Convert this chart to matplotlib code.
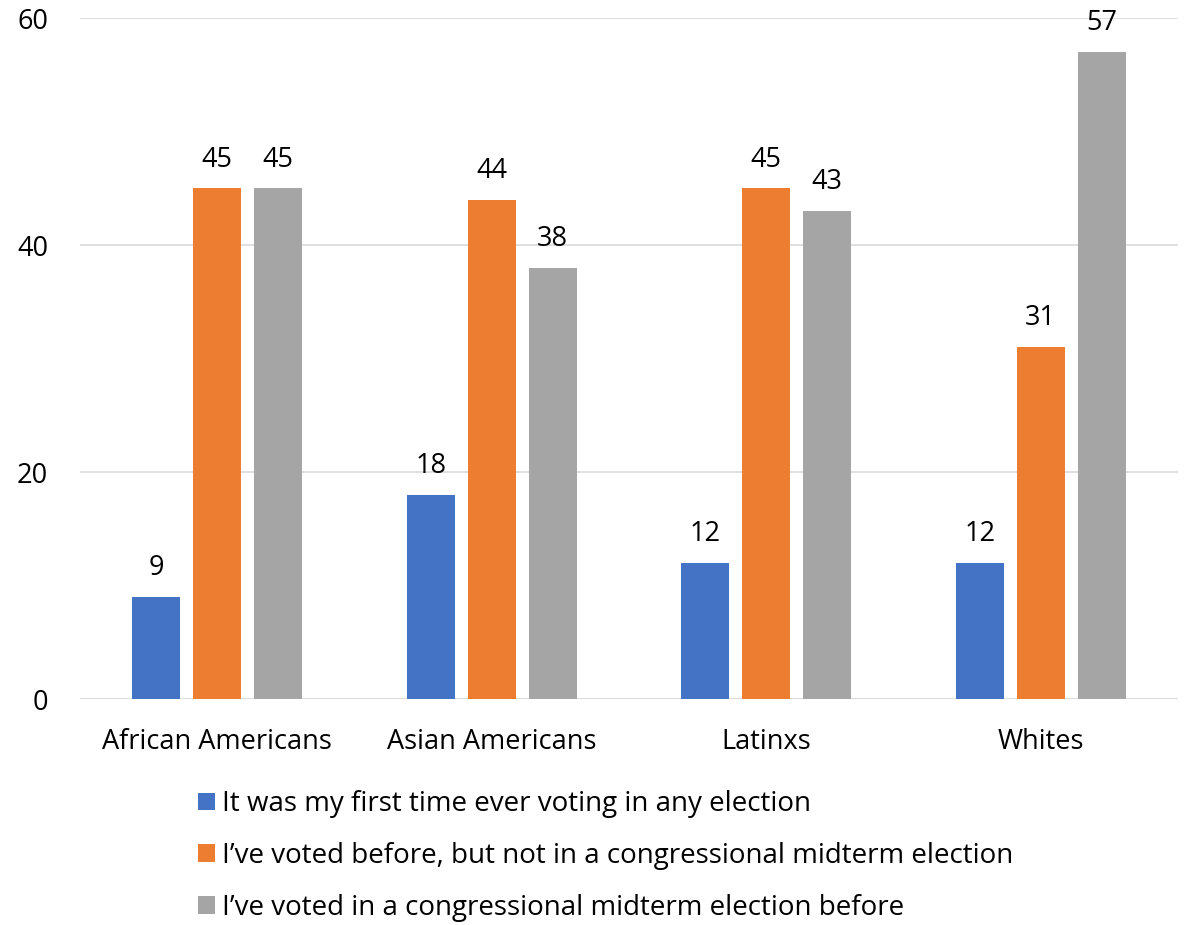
import matplotlib
matplotlib.use("Agg")
import matplotlib.pyplot as plt
import numpy as np

categories = ['African Americans', 'Asian Americans', 'Latinxs', 'Whites']
series_labels = ['It was my first time ever voting in any election',
                 'I\u2019ve voted before, but not in a congressional midterm election',
                 'I\u2019ve voted in a congressional midterm election before']
first_time = [9, 18, 12, 12]
not_midterm = [45, 44, 45, 31]
midterm_before = [45, 38, 43, 57]
colors = ['#4472C4', '#ED7D31', '#A5A5A5']

plt.rcParams['font.family'] = ['Open Sans', 'DejaVu Sans']

fig = plt.figure(figsize=(11.86, 9.25), dpi=100)
ax = fig.add_axes([0.0675, 0.2443, 0.9258, 0.7362])

x = np.arange(len(categories))
width = 0.175
step = 0.222
all_series = [first_time, not_midterm, midterm_before]
for i, vals in enumerate(all_series):
    bars = ax.bar(x + (i - 1) * step, vals, width, color=colors[i],
                  label=series_labels[i], zorder=3)
    for b, v in zip(bars, vals):
        ax.text(b.get_x() + b.get_width() / 2, v + 1.3, str(v),
                ha='center', va='bottom', fontsize=19.5, color='black')

ax.set_xlim(-0.5, 3.5)
ax.set_ylim(0, 60)
ax.set_yticks([0, 20, 40, 60])
ax.set_xticks(x)
ax.set_xticklabels(categories)
ax.tick_params(axis='both', length=0, labelsize=19.5)
ax.tick_params(axis='y', pad=23)
ax.tick_params(axis='x', pad=21)
for s in ax.spines.values():
    s.set_visible(False)
ax.yaxis.grid(True, color='#d9d9d9', linewidth=1.2, zorder=0)
ax.axhline(0, color='#d9d9d9', linewidth=1.2, zorder=1)

# legend low in the figure, kept just inside the bottom edge
fig.legend(loc='upper left', bbox_to_anchor=(0.1575, 0.1575), frameon=False,
           fontsize=20, handlelength=0.6, handleheight=0.6,
           handletextpad=0.25, labelspacing=0.85, borderaxespad=0)

fig.savefig('out.png', dpi=100)
